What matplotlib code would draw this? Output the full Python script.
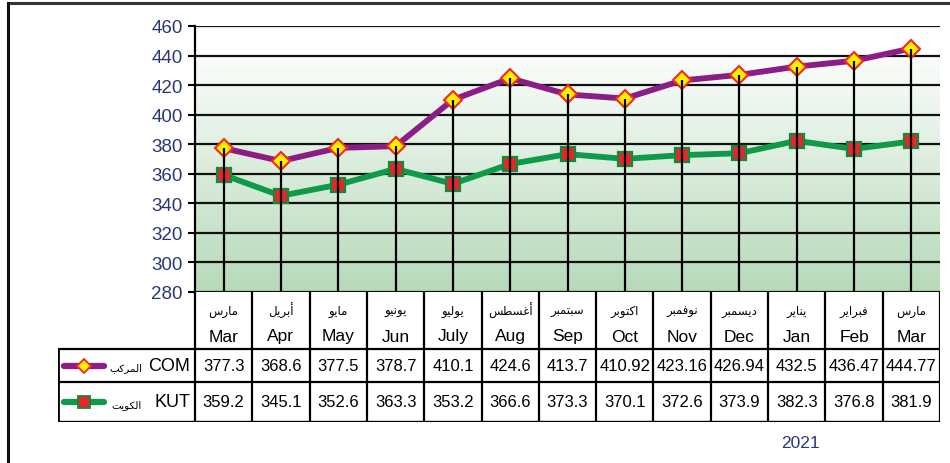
import numpy as np
import matplotlib.pyplot as plt
from matplotlib.colors import LinearSegmentedColormap

# ---- data ----
months_en = ['Mar', 'Apr', 'May', 'Jun', 'July', 'Aug', 'Sep', 'Oct', 'Nov', 'Dec', 'Jan', 'Feb', 'Mar']
months_ar = ['مارس', 'أبريل', 'مايو', 'يونيو', 'يوليو', 'أغسطس', 'سبتمبر', 'اكتوبر',
             'نوفمبر', 'ديسمبر', 'يناير', 'فبراير', 'مارس']
com_vals = [377.3, 368.6, 377.5, 378.7, 410.1, 424.6, 413.7, 410.92, 423.16, 426.94, 432.5, 436.47, 444.77]
kut_vals = [359.2, 345.1, 352.6, 363.3, 353.2, 366.6, 373.3, 370.1, 372.6, 373.9, 382.3, 376.8, 381.9]
com_name, com_ar = 'COM', 'المركب'
kut_name, kut_ar = 'KUT', 'الكويت'
year_label = '2021'
y_ticks = list(range(280, 461, 20))

# ---- minimal Arabic shaping (matplotlib has no bidi/shaping) ----
FORMS = {
    'ا': ('\uFE8D', '\uFE8E'), 'أ': ('\uFE83', '\uFE84'), 'د': ('\uFEA9', '\uFEAA'),
    'ر': ('\uFEAD', '\uFEAE'), 'و': ('\uFEED', '\uFEEE'),
    'ب': ('\uFE8F', '\uFE90', '\uFE91', '\uFE92'), 'ت': ('\uFE95', '\uFE96', '\uFE97', '\uFE98'),
    'س': ('\uFEB1', '\uFEB2', '\uFEB3', '\uFEB4'), 'ط': ('\uFEC1', '\uFEC2', '\uFEC3', '\uFEC4'),
    'غ': ('\uFECD', '\uFECE', '\uFECF', '\uFED0'), 'ف': ('\uFED1', '\uFED2', '\uFED3', '\uFED4'),
    'ك': ('\uFED9', '\uFEDA', '\uFEDB', '\uFEDC'), 'ل': ('\uFEDD', '\uFEDE', '\uFEDF', '\uFEE0'),
    'م': ('\uFEE1', '\uFEE2', '\uFEE3', '\uFEE4'), 'ن': ('\uFEE5', '\uFEE6', '\uFEE7', '\uFEE8'),
    'ي': ('\uFEF1', '\uFEF2', '\uFEF3', '\uFEF4'),
}


def shape_ar(s):
    out = []
    for i, ch in enumerate(s):
        f = FORMS.get(ch)
        if f is None:
            out.append(ch)
            continue
        prev = s[i - 1] if i > 0 else None
        nxt = s[i + 1] if i + 1 < len(s) else None
        jp = prev in FORMS and len(FORMS[prev]) == 4
        jn = len(f) == 4 and nxt in FORMS
        if jp and jn:
            out.append(f[3])
        elif jp:
            out.append(f[1])
        elif jn:
            out.append(f[2])
        else:
            out.append(f[0])
    return ''.join(reversed(out))


purple = '#8c1d86'
green = '#0e9a48'
navy = '#2b3675'
sans = ['Liberation Sans', 'DejaVu Sans']
arab = ['DejaVu Sans']

W, H = 950, 464
fig = plt.figure(figsize=(9.5, 4.64), dpi=100)

# background frame
bg = fig.add_axes([0, 0, 1, 1])
bg.set_xlim(0, W); bg.set_ylim(H, 0); bg.axis('off')
bg.plot([8, W], [4, 4], color='#333333', lw=2.2)
bg.plot([8, 8], [4, H], color='#111111', lw=2.2)
bg.text(800, 444, year_label, color=navy, fontsize=12.5, ha='center', va='center', family=sans)

# main chart
L, R, T, B = 195, 940, 27, 293
ax = fig.add_axes([L / W, 1 - B / H, (R - L) / W, (B - T) / H])
x = np.arange(len(months_en))
cmap = LinearSegmentedColormap.from_list('g', ['#b6dab9', '#fbfdfb'])
ax.imshow(np.linspace(1, 0, 200).reshape(-1, 1), extent=(-0.5, 12.5, 280, 440),
          cmap=cmap, aspect='auto', zorder=0)
ax.set_xlim(-0.5, 12.5)
ax.set_ylim(280, 460)
ax.set_yticks(y_ticks)
ax.set_xticks([])
ax.grid(axis='y', color='#111111', lw=1.6, zorder=1)
ax.set_axisbelow(True)
for s in ['top', 'right', 'bottom']:
    ax.spines[s].set_visible(False)
ax.spines['left'].set_linewidth(1.6)
ax.tick_params(axis='y', direction='out', length=5, width=1.5, pad=4,
               labelsize=13.5, labelcolor=navy)
for lab in ax.get_yticklabels():
    lab.set_family(sans)

ax.plot(x, kut_vals, color=green, lw=4.2, marker='s', ms=10, mfc='#e8262a',
        mec='#11893f', mew=1.6, zorder=3)
ax.plot(x, com_vals, color=purple, lw=4.2, marker='D', ms=9, mfc='#ffee00',
        mec='#ee2a24', mew=1.5, zorder=3)
ax.vlines(x, 280, com_vals, color='black', lw=1.6, zorder=4)

# data table below the chart
TL, TB = 58, 423
unit = (R - L) / 13.0
tx0 = -0.5 - (L - TL) / unit
tax = fig.add_axes([TL / W, 1 - TB / H, (R - TL) / W, (TB - B) / H])
tax.set_xlim(tx0, 12.5); tax.set_ylim(TB - B, 0); tax.axis('off')

tax.vlines(np.arange(14) - 0.5, 0, 130, color='black', lw=1.6)
tax.vlines([tx0], 57, 130, color='black', lw=2)
tax.hlines([57, 90], tx0, 12.5, color='black', lw=1.6)
tax.hlines([130], tx0, 12.5, color='black', lw=2.4)

for i in range(len(months_en)):
    tax.text(x[i], 18, shape_ar(months_ar[i]), ha='center', va='center', fontsize=8.5, family=arab)
    tax.text(x[i], 44, months_en[i], ha='center', va='center', fontsize=12.5, family=sans)
    tax.text(x[i], 73.5, str(com_vals[i]), ha='center', va='center', fontsize=12, family=sans)
    tax.text(x[i], 110, str(kut_vals[i]), ha='center', va='center', fontsize=12, family=sans)

# row headers with legend samples
ls0 = -0.5 - (L - 64) / unit
ls1 = -0.5 - (L - 104) / unit
lm = (ls0 + ls1) / 2
tax.plot([ls0, ls1], [73.5, 73.5], color=purple, lw=4.5, solid_capstyle='round')
tax.plot([lm], [73.5], marker='D', ms=7, mfc='#ffee00', mec='#ee2a24', mew=1.3)
tax.plot([ls0, ls1], [110, 110], color=green, lw=4.5, solid_capstyle='round')
tax.plot([lm], [110], marker='s', ms=8, mfc='#e8262a', mec='#11893f', mew=1.3)

ar_right = -0.5 - (L - 142) / unit
name_right = -0.5 - (L - 190) / unit
tax.text(name_right, 73.5, com_name, ha='right', va='center', fontsize=13, family=sans)
tax.text(ar_right, 75, shape_ar(com_ar), ha='right', va='center', fontsize=7.5, family=arab)
tax.text(name_right, 110, kut_name, ha='right', va='center', fontsize=13, family=sans)
tax.text(ar_right, 112, shape_ar(kut_ar), ha='right', va='center', fontsize=7.5, family=arab)

fig.savefig('out.png', dpi=100)
